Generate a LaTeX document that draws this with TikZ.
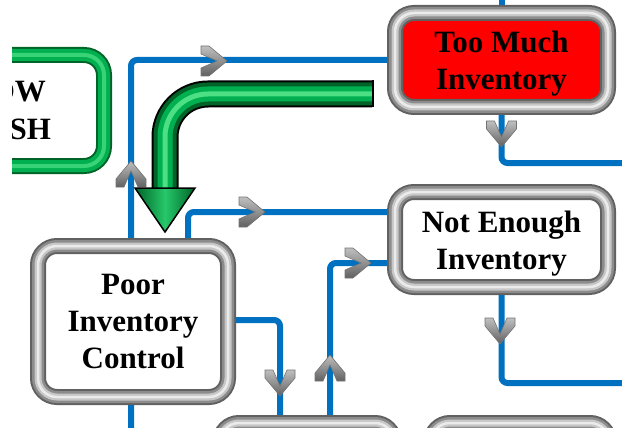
\documentclass[tikz,border=0pt]{standalone}
\usepackage{fontspec}
\setmainfont{Liberation Serif}
\usetikzlibrary{positioning,calc,backgrounds}

\definecolor{flowblue}{RGB}{0,112,192}
\definecolor{tubegreen}{RGB}{0,176,80}
\definecolor{tubedark}{RGB}{0,100,40}
\definecolor{tubelight}{RGB}{95,235,145}
\definecolor{alarmred}{RGB}{255,0,0}

\tikzset{
  flow/.style={draw=flowblue, line width=6pt, rounded corners=6pt},
  box/.style={rounded corners=19pt, inner sep=0pt, outer sep=0pt, fill=white,
    align=center, font=\bfseries\fontsize{31}{37}\selectfont,
    postaction={draw=black!62, line width=16pt},
    postaction={draw=black!45, line width=12pt},
    postaction={draw=black!22, line width=7pt},
    postaction={draw=white!92!black, line width=2.5pt}},
  gbox/.style={rounded corners=20pt, inner sep=0pt, outer sep=0pt, fill=white,
    align=center, font=\bfseries\fontsize{31}{38}\selectfont,
    postaction={draw=tubedark, line width=16pt},
    postaction={draw=tubegreen, line width=12pt},
    postaction={draw=tubelight!60!tubegreen, line width=4pt}},
  bendtube/.style={rounded corners=43pt, draw=black, line width=27pt,
    postaction={draw=tubedark, line width=23pt},
    postaction={draw=tubegreen, line width=15pt},
    postaction={draw=tubelight!80!tubegreen, line width=5pt}},
  chev/.pic={
    \path[top color=black!25, bottom color=black!62, draw=black!55, line width=0.6pt]
      (-13,-15) -- (-5,-15) -- (13,0) -- (-5,15) -- (-13,15) -- (-13,7)
      -- (3,0) -- (-13,-7) -- cycle;
  }
}
\newcommand{\lift}{\rule{0pt}{29pt}}

\begin{document}
\begin{tikzpicture}[x=1pt,y=-1pt]
  \useasboundingbox (0,0) rectangle (622,428);

  % the boxes
  \node[box, minimum width=190pt, minimum height=151pt] (poor) at (133,321.5) {Poor\\Inventory\\Control};
  \node[box, fill=alarmred, minimum width=213pt, minimum height=94pt] (toomuch) at (501.5,60) {\lift Too Much\\Inventory};
  \node[box, minimum width=213pt, minimum height=95pt] (notenough) at (501.5,239.5) {\lift Not Enough\\Inventory};
  \node[box, minimum width=174pt, minimum height=100pt] (nextA) at (307,473) {};
  \node[box, minimum width=178pt, minimum height=100pt] (nextB) at (520,473) {};
  \begin{scope}
    \clip (12,0) rectangle (200,200);
    \node[gbox, minimum width=192pt, minimum height=111pt] (lowcash) at (8,110.5) {LOW\\CASH};
  \end{scope}

  \coordinate (srcA) at (131,428);
  \coordinate (edgeA) at (622,163);
  \coordinate (edgeB) at (622,383);
  \coordinate (topA) at (501.5,0);

  % blue flow lines under the boxes
  \begin{scope}[on background layer]
    \draw[flow] (srcA) |- (toomuch.west);
    \draw[flow] ($(poor.north)+(55,0)$) |- ($(notenough.west)+(0,-27.5)$);
    \draw[flow] ($(nextA.north)+(23,0)$) |- ($(notenough.west)+(0,23.5)$);
    \draw[flow] ($(poor.east)+(0,-1.5)$) -| ($(nextA.north)+(-27,0)$);
    \draw[flow] (toomuch.south) |- (edgeA);
    \draw[flow] (notenough.south) |- (edgeB);
    \draw[flow] (topA) -- (toomuch.north);

    \pic at (214,61) {chev};
    \pic[rotate=90] at (131,174) {chev};
    \pic at (252,212) {chev};
    \pic at (358,263) {chev};
    \pic[rotate=90] at (330,368) {chev};
    \pic[rotate=-90] at (280,383) {chev};
    \pic[rotate=-90] at (501.5,134) {chev};
    \pic[rotate=-90] at (500,331) {chev};
  \end{scope}

  % green bent arrow
  \coordinate (bendstart) at (372,94);
  \coordinate (bendend) at ($(poor.north)+(32,-58)$);
  \path[bendtube] (bendstart) -| (bendend);
  \draw[black, line width=1.5pt] ($(bendstart)+(0.75,-13.5)$) -- ($(bendstart)+(0.75,13.5)$);
  \path[draw=black, line width=1.5pt, left color=tubedark, right color=tubedark, middle color=tubegreen!60!tubelight]
    ($(bendend)+(-30,0)$) -- ($(bendend)+(30,0)$) -- ($(bendend)+(0,44)$) -- cycle;
\end{tikzpicture}
\end{document}
